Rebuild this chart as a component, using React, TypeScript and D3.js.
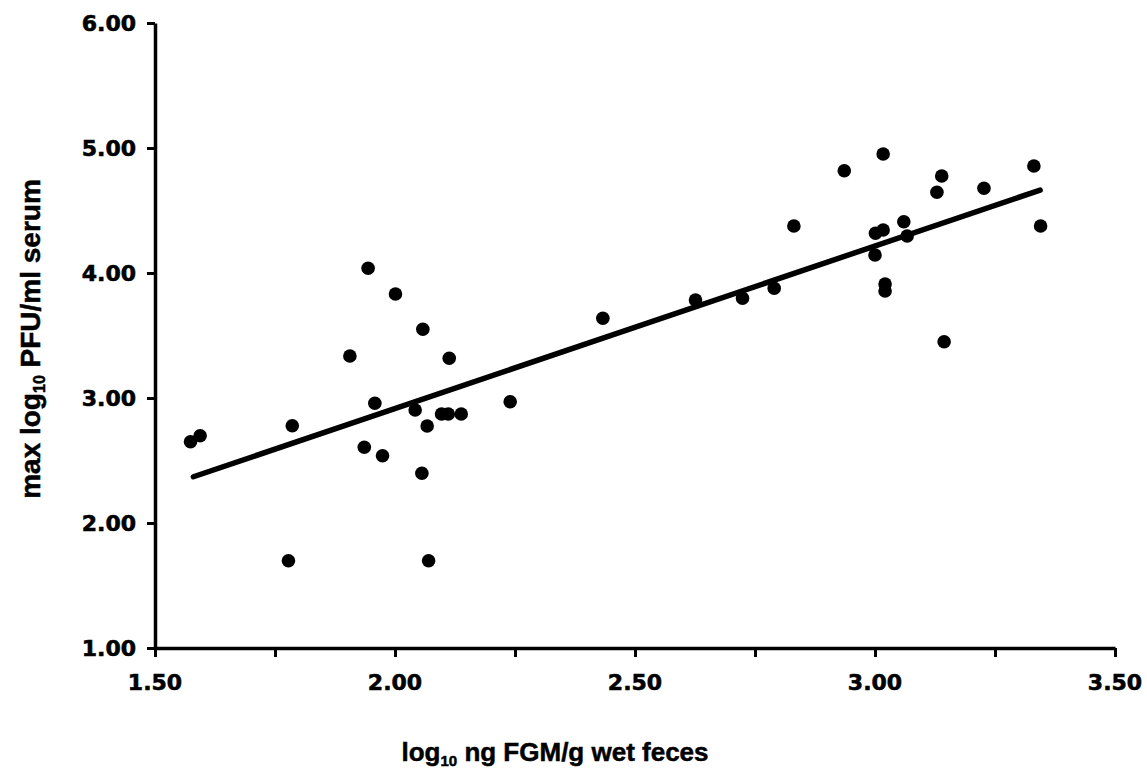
import React, { useEffect, useRef } from 'react';
import * as d3 from 'd3';

// log10 ng FGM/g wet feces
const fgm = [
  1.574, 1.594, 1.786, 1.778, 1.906, 1.944, 1.936, 1.958, 1.974, 2.001,
  2.042, 2.058, 2.056, 2.067, 2.070, 2.097, 2.111, 2.138, 2.113, 2.240,
  2.433, 2.626, 2.724, 2.790, 2.831, 2.936, 3.017, 3.139, 3.129, 3.227,
  3.331, 3.345, 3.001, 3.017, 3.060, 3.067, 3.000, 3.021, 3.021, 3.144,
];
// max log10 PFU/ml serum
const pfu = [
  2.650, 2.698, 2.778, 1.698, 3.336, 4.038, 2.606, 2.958, 2.538, 3.832,
  2.904, 3.550, 2.398, 2.776, 1.698, 2.872, 2.872, 2.872, 3.318, 2.970,
  3.638, 3.784, 3.798, 3.878, 4.376, 4.818, 4.952, 4.776, 4.646, 4.678,
  4.856, 4.376, 4.318, 4.344, 4.410, 4.296, 4.144, 3.912, 3.856, 3.450,
];

// fitted trend line
const trendSlope = 1.3;
const trendIntercept = 0.316;
const trendRange = [1.58, 3.344];

const xTicks = [1.5, 1.75, 2, 2.25, 2.5, 2.75, 3, 3.25, 3.5];
const yTicks = [1, 2, 3, 4, 5, 6];

const App = () => {
  const svgRef = useRef<SVGSVGElement>(null);
  const width = 1147;
  const height = 775;
  const margin = { top: 23, right: 32, bottom: 127, left: 155 };

  useEffect(() => {
    const svg = d3.select(svgRef.current);
    svg.selectAll('*').remove();

    const x = d3.scaleLinear().domain([1.5, 3.5]).range([margin.left, width - margin.right]);
    const y = d3.scaleLinear().domain([1, 6]).range([height - margin.bottom, margin.top]);

    const tickFont = '"DejaVu Sans", Verdana, sans-serif';

    // x axis
    const gx = svg.append('g')
        .attr('transform', `translate(0,${y(1)})`)
        .call(d3.axisBottom(x).tickValues(xTicks).tickSize(9).tickSizeOuter(0).tickFormat(() => ''));
    gx.select('.domain').attr('stroke', '#000').attr('stroke-width', 3.5);
    gx.selectAll('.tick line').attr('stroke', '#000').attr('stroke-width', 3);

    svg.append('g')
        .selectAll('text')
        .data(xTicks.filter((d, i) => i % 2 === 0))
        .join('text')
        .attr('x', d => x(d))
        .attr('y', 690)
        .attr('text-anchor', 'middle')
        .style('font', `bold 22px ${tickFont}`)
        .attr('stroke', '#000')
        .attr('stroke-width', 0.6)
        .text(d => d.toFixed(2));

    // y axis
    const gy = svg.append('g')
        .attr('transform', `translate(${x(1.5)},0)`)
        .call(d3.axisLeft(y).tickValues(yTicks).tickSize(8).tickSizeOuter(0).tickFormat(() => ''));
    gy.select('.domain').attr('stroke', '#000').attr('stroke-width', 3.5);
    gy.selectAll('.tick line').attr('stroke', '#000').attr('stroke-width', 3);

    svg.append('g')
        .selectAll('text')
        .data(yTicks)
        .join('text')
        .attr('x', 136)
        .attr('y', d => y(d))
        .attr('dy', '0.36em')
        .attr('text-anchor', 'end')
        .style('font', `bold 22px ${tickFont}`)
        .attr('stroke', '#000')
        .attr('stroke-width', 0.6)
        .text(d => d.toFixed(2));

    // trend line
    const line = d3.line<number>().x(d => x(d)).y(d => y(trendSlope * d + trendIntercept));
    svg.append('path')
        .datum(trendRange)
        .attr('d', line)
        .attr('fill', 'none')
        .attr('stroke', '#000')
        .attr('stroke-width', 5.5)
        .attr('stroke-linecap', 'round');

    // points
    svg.append('g')
        .selectAll('circle')
        .data(fgm.map((v, i) => [v, pfu[i]]))
        .join('circle')
        .attr('cx', d => x(d[0]))
        .attr('cy', d => y(d[1]))
        .attr('r', 6.8)
        .attr('fill', '#000');

    // axis titles
    const titleFont = '"Liberation Sans", Arial, sans-serif';
    const xt = svg.append('text')
        .attr('x', 555)
        .attr('y', 761)
        .attr('text-anchor', 'middle')
        .attr('stroke', '#000')
        .attr('stroke-width', 0.5)
        .style('font', `bold 26px ${titleFont}`);
    xt.append('tspan').text('log');
    xt.append('tspan').attr('dy', 5).style('font-size', '15px').text('10');
    xt.append('tspan').attr('dy', -5).text(' ng FGM/g wet feces');

    const yt = svg.append('text')
        .attr('transform', `translate(40,339) rotate(-90)`)
        .attr('text-anchor', 'middle')
        .attr('stroke', '#000')
        .attr('stroke-width', 0.5)
        .style('font', `bold 28px ${titleFont}`);
    yt.append('tspan').text('max log');
    yt.append('tspan').attr('dy', 5).style('font-size', '16px').text('10');
    yt.append('tspan').attr('dy', -5).text(' PFU/ml serum');
  }, []);

  return (
    <svg
      ref={svgRef}
      width={width}
      height={height}
      style={{ position: 'absolute', left: 0, top: 0, background: '#fff' }}
    />
  );
};

export default App;
